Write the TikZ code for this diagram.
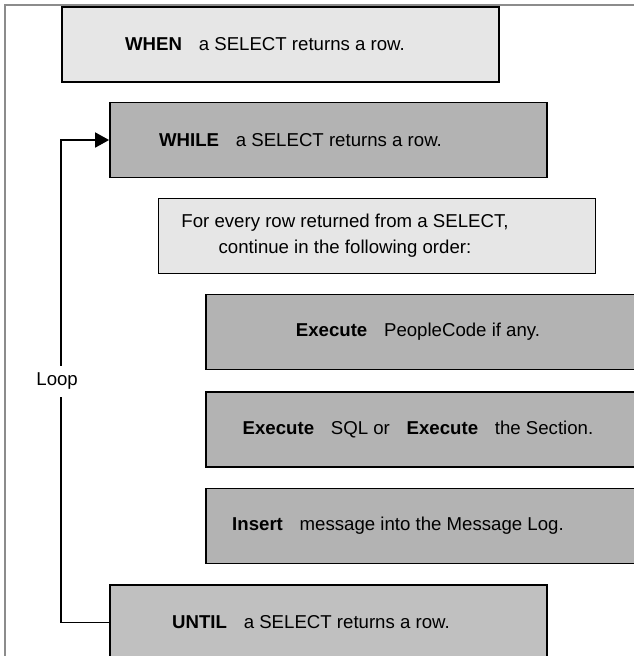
\documentclass[tikz,border=0pt]{standalone}
\usepackage{fontspec}
\setmainfont{Liberation Sans}
\usetikzlibrary{arrows.meta}
\definecolor{paler}{HTML}{E6E6E6}
\definecolor{darker}{HTML}{B3B3B3}
\definecolor{untilgray}{HTML}{C0C0C0}
\definecolor{framecolor}{HTML}{8C8C8C}
\newcommand{\kw}[1]{\textbf{#1}\hspace{0.9em}}

\begin{document}
\begin{tikzpicture}[
    every node/.style={font=\fontsize{10.6}{14.8}\selectfont},
    box/.style={draw=black, line width=1pt, minimum width=8.74cm, minimum height=1.5cm, inner sep=0pt},
    pale/.style={box, fill=paler},
    dark/.style={box, fill=darker},
    txt/.style={align=center, inner sep=0pt},
    loopline/.style={black, line width=1pt},
    looplbl/.style={fill=white, inner xsep=1pt, inner ysep=4pt, xshift=-0.08cm},
]
\useasboundingbox (0,0) rectangle (12.68,-13.12);
\draw[framecolor, line width=1.1pt] (0.1,-13.3) |- (12.9,-0.1);

% the outer condition
\node[pale] (when) at (5.61,-0.89) {};
\node[txt] (whentxt) at ([xshift=-0.31cm]when.center) {\kw{WHEN}a SELECT returns a row.};

% the loop head
\node[dark] (while) at (6.57,-2.80) {};
\node[txt] (whiletxt) at ([xshift=-0.56cm]while.center) {\kw{WHILE}a SELECT returns a row.};

\node[pale] (every) at (7.54,-4.72) {};
\node[txt] (everytxt) at ([xshift=-0.64cm]every.center)
     {For every row returned from a SELECT,\\ continue in the following order:};

% the steps for each row
\node[dark] (pcode) at (8.49,-6.64) {};
\node[txt] (pcodetxt) at ([xshift=-0.13cm]pcode.center) {\kw{Execute}PeopleCode if any.};

\node[dark] (sql) at (8.49,-8.59) {};
\node[txt] (sqltxt) at ([xshift=-0.13cm]sql.center)
     {\kw{Execute}SQL or\hspace{0.9em}\kw{Execute}the Section.};

\node[dark] (msglog) at (8.49,-10.52) {};
\node[txt] (msglogtxt) at ([xshift=-0.53cm]msglog.center) {\kw{Insert}message into the Message Log.};

% the loop tail
\node[box, fill=untilgray] (until) at (6.57,-12.45) {};
\node[txt] (untiltxt) at ([xshift=-0.35cm]until.center) {\kw{UNTIL}a SELECT returns a row.};

\draw[loopline, -{Triangle[length=0.28cm, width=0.3cm]}] (until.west) -- ++(-0.96,0)
     |- node[looplbl, pos=0.25] (loop) {Loop} (while.west);
\end{tikzpicture}
\end{document}
